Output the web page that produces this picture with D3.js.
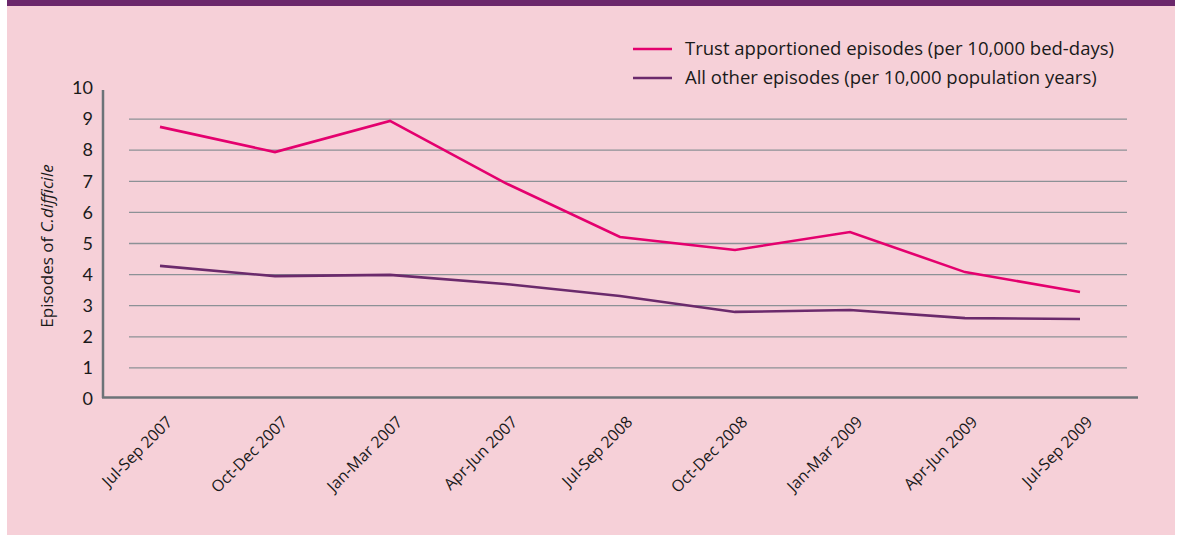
<!DOCTYPE html>
<html>
<head>
<meta charset="utf-8">
<script src="https://cdn.jsdelivr.net/npm/d3@7"></script>
<style>
  body { margin: 0; background: #fff; }
  svg { display: block; font-family: "Open Sans", sans-serif; }
</style>
</head>
<body>
<svg id="chart" width="1178" height="535"></svg>
<script>
// quarters along the x axis (labels as printed in the source)
let quarters = ["Jul-Sep 2007", "Oct-Dec 2007", "Jan-Mar 2007", "Apr-Jun 2007",
  "Jul-Sep 2008", "Oct-Dec 2008", "Jan-Mar 2009", "Apr-Jun 2009", "Jul-Sep 2009"];

let trustEpisodes = [8.75, 7.94, 8.94, 6.95, 5.21, 4.79, 5.37, 4.08, 3.44];
let otherEpisodes = [4.28, 3.95, 3.99, 3.70, 3.31, 2.80, 2.86, 2.60, 2.57];

let yTicks = [0, 1, 2, 3, 4, 5, 6, 7, 8, 9, 10];

let seriesNames = ["Trust apportioned episodes (per 10,000 bed-days)",
  "All other episodes (per 10,000 population years)"];
let seriesColors = ["#e4006e", "#6b2a6c"];

let svg = d3.select("#chart");

// panel background + top band
svg.append("rect").attr("x", 7).attr("y", 0).attr("width", 1168).attr("height", 535)
  .attr("fill", "#f6d0d8");
svg.append("rect").attr("x", 7).attr("y", 0).attr("width", 1168).attr("height", 6)
  .attr("fill", "#6b276b");

let x = d3.scalePoint().domain(quarters).range([160, 1080]);
let y = d3.scaleLinear().domain([0, 10]).range([399, 88]);

// gridlines
svg.append("g").selectAll("line")
  .data(yTicks.filter(d => d > 0 && d < 10))
  .enter().append("line")
  .attr("x1", 129).attr("x2", 1127)
  .attr("y1", d => y(d)).attr("y2", d => y(d))
  .attr("stroke", "#8c9196").attr("stroke-width", 1.3);

// y axis
let yAxis = svg.append("g")
  .attr("transform", "translate(103,0)")
  .call(d3.axisLeft(y).tickValues(yTicks).tickSize(0).tickPadding(10));
yAxis.select(".domain").remove();
yAxis.attr("font-family", null);
yAxis.selectAll("text").attr("font-size", 18).attr("fill", "#1a1a1a")
  .attr("font-family", "Lato, sans-serif");

svg.append("line").attr("x1", 103).attr("x2", 103).attr("y1", 90).attr("y2", 398)
  .attr("stroke", "#6c7378").attr("stroke-width", 2.5);
svg.append("line").attr("x1", 102).attr("x2", 1138).attr("y1", 397.5).attr("y2", 397.5)
  .attr("stroke", "#6c7378").attr("stroke-width", 2.5);

// x labels
let xAxis = svg.append("g")
  .attr("transform", "translate(0,397)")
  .call(d3.axisBottom(x).tickSize(0).tickPadding(0));
xAxis.select(".domain").remove();
xAxis.attr("font-family", null);
xAxis.selectAll("text")
  .attr("font-size", 16).attr("fill", "#1a1a1a")
  .attr("text-anchor", "end")
  .attr("dy", null).attr("y", 0)
  .attr("transform", "translate(13,26) rotate(-45)");

// y title
svg.append("text")
  .attr("transform", "translate(53,246) rotate(-90)")
  .attr("text-anchor", "middle")
  .attr("font-size", 17).attr("fill", "#1a1a1a")
  .call(t => {
    t.append("tspan").text("Episodes of ");
    t.append("tspan").attr("font-style", "italic").text("C.difficile");
  });

// lines
let line = d3.line().x((d, i) => x(quarters[i])).y(d => y(d));
[trustEpisodes, otherEpisodes].forEach((s, i) => {
  svg.append("path").datum(s)
    .attr("d", line)
    .attr("fill", "none")
    .attr("stroke", seriesColors[i])
    .attr("stroke-width", 2.6);
});

// legend
let legend = svg.append("g").selectAll("g")
  .data(seriesNames)
  .enter().append("g")
  .attr("transform", (d, i) => "translate(633," + (49 + i * 29) + ")");
legend.append("line").attr("x1", 0).attr("x2", 39)
  .attr("stroke", (d, i) => seriesColors[i]).attr("stroke-width", 2.6);
legend.append("text").attr("x", 52).attr("dy", "0.35em")
  .attr("font-size", 18.5).attr("fill", "#1a1a1a")
  .text(d => d);
</script>
</body>
</html>
